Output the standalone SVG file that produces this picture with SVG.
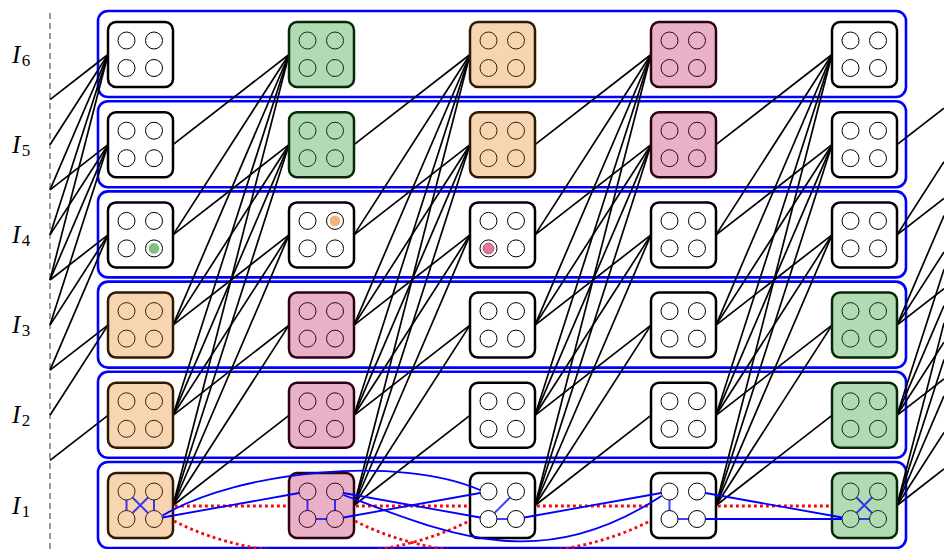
<svg xmlns="http://www.w3.org/2000/svg" xmlns:xlink="http://www.w3.org/1999/xlink" width="944" height="549" viewBox="0 0 944 549">
<style>
.box{fill:none;stroke:#0000ff;stroke-width:2.6}
.nd{stroke-width:2.5}
.w{fill:#ffffff;stroke:#000000}
.o{fill:#f8d5b2;stroke:#2e1a00}
.p{fill:#e9b1c8;stroke:#2e0012}
.g{fill:#b3dbb3;stroke:#062806}
.q{fill:none;stroke:#000;stroke-width:1}
.qo{fill:none;stroke:#3a2200;stroke-width:1}
.qp{fill:none;stroke:#3a0018;stroke-width:1}
.qg{fill:none;stroke:#0d300d;stroke-width:1}
.e line{stroke:#000;stroke-width:1.7}
.bi{stroke:#0000ff;stroke-opacity:.75;stroke-width:2;fill:none}
.b{stroke:#0000ff;stroke-width:1.8;fill:none}
.r{stroke:#ff0000;stroke-width:2.8;stroke-dasharray:2.8 3.2;fill:none}
.lab{font-family:"Liberation Serif","DejaVu Serif",serif;font-style:italic;font-size:25px;fill:#000}
.sub{font-style:normal;font-size:17px}
</style>
<defs>
<g id="quad">
<circle cx="18.5" cy="18.5" r="8.5"/>
<circle cx="46" cy="18.5" r="8.5"/>
<circle cx="18.5" cy="46" r="8.5"/>
<circle cx="46" cy="46" r="8.5"/>
</g>
</defs>

<line x1="50" y1="13" x2="50" y2="549" stroke="#555" stroke-width="1.2" stroke-dasharray="6 4"/>

<g id="labels">
<text class="lab" x="12" y="62.5">I<tspan class="sub" dx="1.5" dy="3">6</tspan></text>
<text class="lab" x="12" y="152.7">I<tspan class="sub" dx="1.5" dy="3">5</tspan></text>
<text class="lab" x="12" y="242.9">I<tspan class="sub" dx="1.5" dy="3">4</tspan></text>
<text class="lab" x="12" y="333.1">I<tspan class="sub" dx="1.5" dy="3">3</tspan></text>
<text class="lab" x="12" y="423.3">I<tspan class="sub" dx="1.5" dy="3">2</tspan></text>
<text class="lab" x="12" y="513.5">I<tspan class="sub" dx="1.5" dy="3">1</tspan></text>
</g>

<g id="containers">
<rect id="row-I6" class="box" x="98" y="11" width="808" height="86" rx="10"/>
<rect id="row-I5" class="box" x="98" y="101.2" width="808" height="86" rx="10"/>
<rect id="row-I4" class="box" x="98" y="191.4" width="808" height="86" rx="10"/>
<rect id="row-I3" class="box" x="98" y="281.6" width="808" height="86" rx="10"/>
<rect id="row-I2" class="box" x="98" y="371.8" width="808" height="86" rx="10"/>
<rect id="row-I1" class="box" x="98" y="462" width="808" height="86" rx="10"/>
</g>

<g id="connectors" class="e">
<line x1="50" y1="280" x2="108" y2="54.5"/>
<line x1="50" y1="234.9" x2="108" y2="54.5"/>
<line x1="50" y1="189.8" x2="108" y2="54.5"/>
<line x1="50" y1="144.7" x2="108" y2="54.5"/>
<line x1="50" y1="99.6" x2="108" y2="54.5"/>
<line x1="50" y1="189.8" x2="108" y2="144.7"/>
<line x1="50" y1="234.9" x2="108" y2="144.7"/>
<line x1="50" y1="280" x2="108" y2="144.7"/>
<line x1="50" y1="325.1" x2="108" y2="144.7"/>
<line x1="50" y1="280" x2="108" y2="234.9"/>
<line x1="50" y1="325.1" x2="108" y2="234.9"/>
<line x1="50" y1="370.2" x2="108" y2="234.9"/>
<line x1="50" y1="370.2" x2="108" y2="325.1"/>
<line x1="50" y1="415.3" x2="108" y2="325.1"/>
<line x1="50" y1="460.4" x2="108" y2="415.3"/>
<line x1="173" y1="505.5" x2="289" y2="415.3"/>
<line x1="173" y1="505.5" x2="289" y2="325.1"/>
<line x1="173" y1="505.5" x2="289" y2="234.9"/>
<line x1="173" y1="505.5" x2="289" y2="144.7"/>
<line x1="173" y1="505.5" x2="289" y2="54.5"/>
<line x1="173" y1="415.3" x2="289" y2="325.1"/>
<line x1="173" y1="415.3" x2="289" y2="234.9"/>
<line x1="173" y1="415.3" x2="289" y2="144.7"/>
<line x1="173" y1="415.3" x2="289" y2="54.5"/>
<line x1="173" y1="325.1" x2="289" y2="234.9"/>
<line x1="173" y1="325.1" x2="289" y2="144.7"/>
<line x1="173" y1="325.1" x2="289" y2="54.5"/>
<line x1="173" y1="234.9" x2="289" y2="144.7"/>
<line x1="173" y1="234.9" x2="289" y2="54.5"/>
<line x1="173" y1="144.7" x2="289" y2="54.5"/>
<line x1="354" y1="505.5" x2="470" y2="415.3"/>
<line x1="354" y1="505.5" x2="470" y2="325.1"/>
<line x1="354" y1="505.5" x2="470" y2="234.9"/>
<line x1="354" y1="505.5" x2="470" y2="144.7"/>
<line x1="354" y1="505.5" x2="470" y2="54.5"/>
<line x1="354" y1="415.3" x2="470" y2="325.1"/>
<line x1="354" y1="415.3" x2="470" y2="234.9"/>
<line x1="354" y1="415.3" x2="470" y2="144.7"/>
<line x1="354" y1="415.3" x2="470" y2="54.5"/>
<line x1="354" y1="325.1" x2="470" y2="234.9"/>
<line x1="354" y1="325.1" x2="470" y2="144.7"/>
<line x1="354" y1="325.1" x2="470" y2="54.5"/>
<line x1="354" y1="234.9" x2="470" y2="144.7"/>
<line x1="354" y1="234.9" x2="470" y2="54.5"/>
<line x1="354" y1="144.7" x2="470" y2="54.5"/>
<line x1="535" y1="505.5" x2="651" y2="415.3"/>
<line x1="535" y1="505.5" x2="651" y2="325.1"/>
<line x1="535" y1="505.5" x2="651" y2="234.9"/>
<line x1="535" y1="505.5" x2="651" y2="144.7"/>
<line x1="535" y1="505.5" x2="651" y2="54.5"/>
<line x1="535" y1="415.3" x2="651" y2="325.1"/>
<line x1="535" y1="415.3" x2="651" y2="234.9"/>
<line x1="535" y1="415.3" x2="651" y2="144.7"/>
<line x1="535" y1="415.3" x2="651" y2="54.5"/>
<line x1="535" y1="325.1" x2="651" y2="234.9"/>
<line x1="535" y1="325.1" x2="651" y2="144.7"/>
<line x1="535" y1="325.1" x2="651" y2="54.5"/>
<line x1="535" y1="234.9" x2="651" y2="144.7"/>
<line x1="535" y1="234.9" x2="651" y2="54.5"/>
<line x1="535" y1="144.7" x2="651" y2="54.5"/>
<line x1="716" y1="505.5" x2="832" y2="415.3"/>
<line x1="716" y1="505.5" x2="832" y2="325.1"/>
<line x1="716" y1="505.5" x2="832" y2="234.9"/>
<line x1="716" y1="505.5" x2="832" y2="144.7"/>
<line x1="716" y1="505.5" x2="832" y2="54.5"/>
<line x1="716" y1="415.3" x2="832" y2="325.1"/>
<line x1="716" y1="415.3" x2="832" y2="234.9"/>
<line x1="716" y1="415.3" x2="832" y2="144.7"/>
<line x1="716" y1="415.3" x2="832" y2="54.5"/>
<line x1="716" y1="325.1" x2="832" y2="234.9"/>
<line x1="716" y1="325.1" x2="832" y2="144.7"/>
<line x1="716" y1="325.1" x2="832" y2="54.5"/>
<line x1="716" y1="234.9" x2="832" y2="144.7"/>
<line x1="716" y1="234.9" x2="832" y2="54.5"/>
<line x1="716" y1="144.7" x2="832" y2="54.5"/>
<line x1="897" y1="505.5" x2="944" y2="469"/>
<line x1="897" y1="505.5" x2="944" y2="432.4"/>
<line x1="897" y1="505.5" x2="944" y2="395.9"/>
<line x1="897" y1="505.5" x2="944" y2="359.4"/>
<line x1="897" y1="505.5" x2="944" y2="322.9"/>
<line x1="897" y1="415.3" x2="944" y2="378.8"/>
<line x1="897" y1="415.3" x2="944" y2="342.2"/>
<line x1="897" y1="415.3" x2="944" y2="305.7"/>
<line x1="897" y1="415.3" x2="944" y2="269.2"/>
<line x1="897" y1="325.1" x2="944" y2="288.6"/>
<line x1="897" y1="325.1" x2="944" y2="252"/>
<line x1="897" y1="325.1" x2="944" y2="215.5"/>
<line x1="897" y1="234.9" x2="944" y2="198.4"/>
<line x1="897" y1="234.9" x2="944" y2="161.8"/>
<line x1="897" y1="144.7" x2="944" y2="108.2"/>
</g>

<g id="nodes">
<g id="n-I6-c1" transform="translate(108,22)"><rect class="nd w" width="65" height="65" rx="8"/><use xlink:href="#quad" class="q"/></g>
<g id="n-I6-c2" transform="translate(289,22)"><rect class="nd g" width="65" height="65" rx="8"/><use xlink:href="#quad" class="qg"/></g>
<g id="n-I6-c3" transform="translate(470,22)"><rect class="nd o" width="65" height="65" rx="8"/><use xlink:href="#quad" class="qo"/></g>
<g id="n-I6-c4" transform="translate(651,22)"><rect class="nd p" width="65" height="65" rx="8"/><use xlink:href="#quad" class="qp"/></g>
<g id="n-I6-c5" transform="translate(832,22)"><rect class="nd w" width="65" height="65" rx="8"/><use xlink:href="#quad" class="q"/></g>
<g id="n-I5-c1" transform="translate(108,112.2)"><rect class="nd w" width="65" height="65" rx="8"/><use xlink:href="#quad" class="q"/></g>
<g id="n-I5-c2" transform="translate(289,112.2)"><rect class="nd g" width="65" height="65" rx="8"/><use xlink:href="#quad" class="qg"/></g>
<g id="n-I5-c3" transform="translate(470,112.2)"><rect class="nd o" width="65" height="65" rx="8"/><use xlink:href="#quad" class="qo"/></g>
<g id="n-I5-c4" transform="translate(651,112.2)"><rect class="nd p" width="65" height="65" rx="8"/><use xlink:href="#quad" class="qp"/></g>
<g id="n-I5-c5" transform="translate(832,112.2)"><rect class="nd w" width="65" height="65" rx="8"/><use xlink:href="#quad" class="q"/></g>
<g id="n-I4-c1" transform="translate(108,202.4)"><rect class="nd w" width="65" height="65" rx="8"/><circle cx="46" cy="46" r="5.3" fill="#7fbf7f"/><use xlink:href="#quad" class="q"/></g>
<g id="n-I4-c2" transform="translate(289,202.4)"><rect class="nd w" width="65" height="65" rx="8"/><circle cx="46" cy="18.5" r="5.3" fill="#f2b47a"/><use xlink:href="#quad" class="q"/></g>
<g id="n-I4-c3" transform="translate(470,202.4)"><rect class="nd w" width="65" height="65" rx="8"/><circle cx="18.5" cy="46" r="5.3" fill="#dd7a9e" stroke="#a0405f" stroke-width="0.8"/><use xlink:href="#quad" class="q"/></g>
<g id="n-I4-c4" transform="translate(651,202.4)"><rect class="nd w" width="65" height="65" rx="8"/><use xlink:href="#quad" class="q"/></g>
<g id="n-I4-c5" transform="translate(832,202.4)"><rect class="nd w" width="65" height="65" rx="8"/><use xlink:href="#quad" class="q"/></g>
<g id="n-I3-c1" transform="translate(108,292.6)"><rect class="nd o" width="65" height="65" rx="8"/><use xlink:href="#quad" class="qo"/></g>
<g id="n-I3-c2" transform="translate(289,292.6)"><rect class="nd p" width="65" height="65" rx="8"/><use xlink:href="#quad" class="qp"/></g>
<g id="n-I3-c3" transform="translate(470,292.6)"><rect class="nd w" width="65" height="65" rx="8"/><use xlink:href="#quad" class="q"/></g>
<g id="n-I3-c4" transform="translate(651,292.6)"><rect class="nd w" width="65" height="65" rx="8"/><use xlink:href="#quad" class="q"/></g>
<g id="n-I3-c5" transform="translate(832,292.6)"><rect class="nd g" width="65" height="65" rx="8"/><use xlink:href="#quad" class="qg"/></g>
<g id="n-I2-c1" transform="translate(108,382.8)"><rect class="nd o" width="65" height="65" rx="8"/><use xlink:href="#quad" class="qo"/></g>
<g id="n-I2-c2" transform="translate(289,382.8)"><rect class="nd p" width="65" height="65" rx="8"/><use xlink:href="#quad" class="qp"/></g>
<g id="n-I2-c3" transform="translate(470,382.8)"><rect class="nd w" width="65" height="65" rx="8"/><use xlink:href="#quad" class="q"/></g>
<g id="n-I2-c4" transform="translate(651,382.8)"><rect class="nd w" width="65" height="65" rx="8"/><use xlink:href="#quad" class="q"/></g>
<g id="n-I2-c5" transform="translate(832,382.8)"><rect class="nd g" width="65" height="65" rx="8"/><use xlink:href="#quad" class="qg"/></g>
<g id="n-I1-c1" transform="translate(108,473)"><rect class="nd o" width="65" height="65" rx="8"/><use xlink:href="#quad" class="qo"/>
<path class="bi" d="M18.5 27V37.5M46 27V37.5M24.5 24.5L40 40M40 24.5L24.5 40"/></g>
<g id="n-I1-c2" transform="translate(289,473)"><rect class="nd p" width="65" height="65" rx="8"/><use xlink:href="#quad" class="qp"/>
<path class="bi" d="M18.5 27V37.5M46 27V37.5M27 46H37.5"/></g>
<g id="n-I1-c3" transform="translate(470,473)"><rect class="nd w" width="65" height="65" rx="8"/><use xlink:href="#quad" class="q"/>
<path class="bi" d="M40 24.5L24.5 40M27 46H37.5"/></g>
<g id="n-I1-c4" transform="translate(651,473)"><rect class="nd w" width="65" height="65" rx="8"/><use xlink:href="#quad" class="q"/>
<path class="bi" d="M18.5 27V37.5M27 46H37.5"/></g>
<g id="n-I1-c5" transform="translate(832,473)"><rect class="nd g" width="65" height="65" rx="8"/><use xlink:href="#quad" class="qg"/>
<path class="bi" d="M24.5 24.5L40 40M40 24.5L24.5 40M27 46H37.5"/></g>
</g>

<g id="row-connectors">
<path class="r" d="M175 506H289M356 506H470M537 506H651M718 506H832"/>
<path class="r" d="M174 521C260 565 383 565 469 521"/>
<path class="r" d="M355 521C441 565 564 565 650 521"/>
<path class="b" d="M162.4 517.5L299.1 493"/>
<path class="b" d="M162.5 515.5C240 470 400 455 480 490"/>
<path class="b" d="M343.4 493L480.1 517.5"/>
<path class="b" d="M343.4 517.5L480.1 493"/>
<path class="b" d="M343.5 495C450 535 540 575 661.5 496"/>
<path class="b" d="M524.4 517.5L661.1 493"/>
<path class="b" d="M705.4 493L842.1 517.5"/>
<path class="b" d="M705.5 519H842"/>
</g>
</svg>
